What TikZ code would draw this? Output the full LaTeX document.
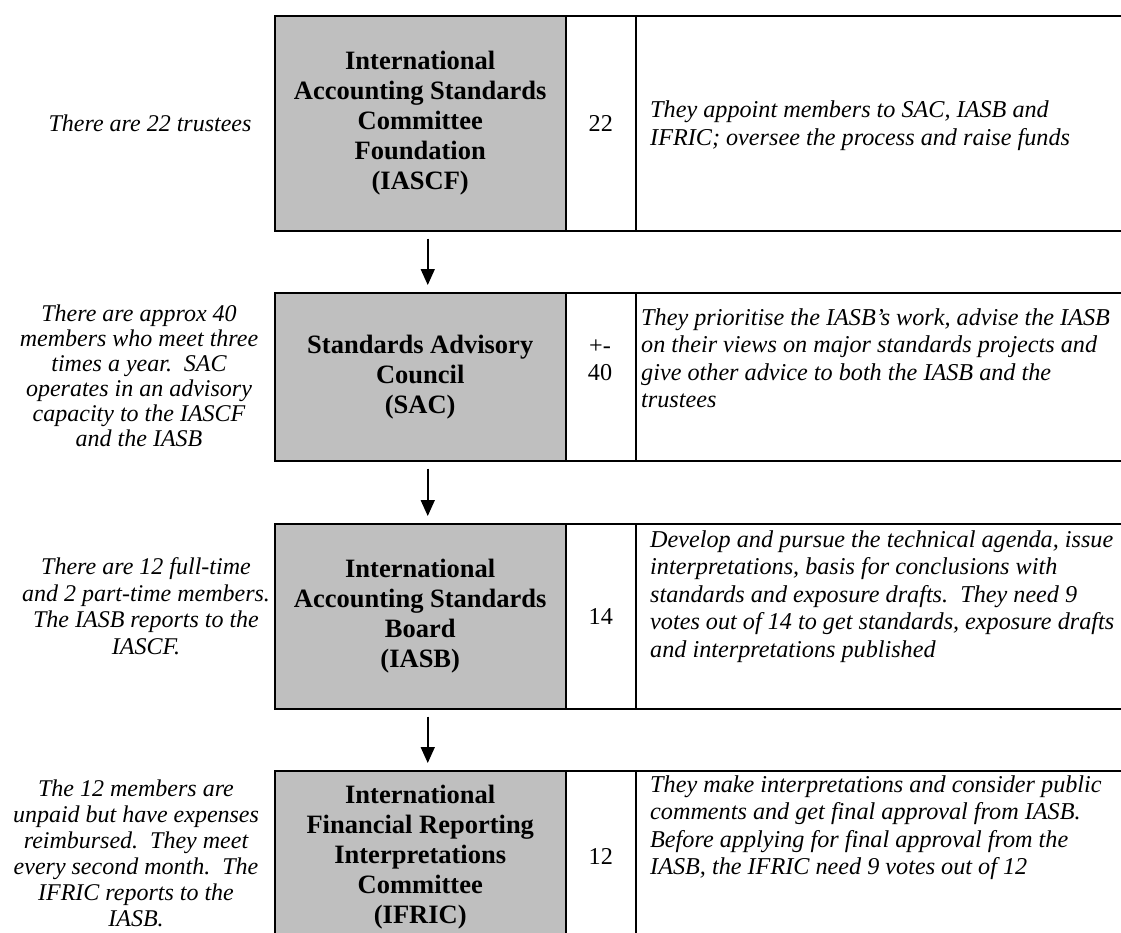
\documentclass[tikz,border=0pt]{standalone}
\usepackage{fontspec}
\setmainfont{Liberation Serif}
\usetikzlibrary{calc,arrows.meta}
\begin{document}
\begin{tikzpicture}[x=1pt,y=-1pt,
  cell/.style={draw=black, line width=1.5pt, inner sep=0pt, anchor=north west},
  grey/.style={cell, fill=black!25, minimum width=291pt, align=center, font=\fontsize{26.5}{30}\selectfont\bfseries},
  num/.style={cell, minimum width=70pt, align=center, font=\fontsize{24.2}{27}\selectfont},
  desc/.style={cell, minimum width=495pt},
  rtext/.style={anchor=west, align=left, inner sep=0pt, font=\fontsize{24.2}{27.5}\selectfont\itshape},
  ltext/.style={align=center, inner sep=0pt, font=\fontsize{24}{26.5}\selectfont\itshape},
  arr/.style={-{Triangle[length=16pt,width=14pt]}, line width=1.6pt}]
\clip (0,0) rectangle (1121,932);
% row 1
\node[grey, minimum height=215pt] (g1) at (274,15) {International\\Accounting Standards\\Committee\\Foundation\\(IASCF)};
\node[num, minimum height=215pt] (n1) at (565,15) {22};
\node[desc, minimum height=215pt] (d1) at (635,15) {};
\node[rtext] (t1) at (650,125.5) {They appoint members to SAC, IASB and\\IFRIC; oversee the process and raise funds};
\node[ltext] (l1) at (150,123) {There are 22 trustees};
% row 2
\node[grey, minimum height=168pt] (g2) at (274,292) {Standards Advisory\\Council\\(SAC)};
\node[num, minimum height=168pt] (n2) at (565,292) {};
\node[num, draw=none, anchor=center] (n2t) at (600,360) {+-\\40};
\node[desc, minimum height=168pt] (d2) at (635,292) {};
\node[rtext] (t2) at (641,358) {They prioritise the IASB’s work, advise the IASB\\on their views on major standards projects and\\give other advice to both the IASB and the\\trustees};
\node[ltext, font=\fontsize{24}{25}\selectfont\itshape] (l2) at (139,375.5) {There are approx 40\\members who meet three\\times a year.\ \ SAC\\operates in an advisory\\capacity to the IASCF\\and the IASB};
% row 3
\node[grey, minimum height=185pt] (g3) at (274,523) {International\\Accounting Standards\\Board\\(IASB)};
\node[num, minimum height=185pt] (n3) at (565,523) {14};
\node[desc, minimum height=185pt] (d3) at (635,523) {};
\node[rtext] (t3) at (650,596.5) {Develop and pursue the technical agenda, issue\\interpretations, basis for conclusions with\\standards and exposure drafts.\ \ They need 9\\votes out of 14 to get standards, exposure drafts\\and interpretations published};
\node[ltext] (l3) at (146,606) {There are 12 full-time\\and 2 part-time members.\\The IASB reports to the\\IASCF.};
% row 4
\node[grey, minimum height=172pt] (g4) at (274,770) {International\\Financial Reporting\\Interpretations\\Committee\\(IFRIC)};
\node[num, minimum height=172pt] (n4) at (565,770) {12};
\node[desc, minimum height=172pt] (d4) at (635,770) {};
\node[rtext] (t4) at (650,827.5) {They make interpretations and consider public\\comments and get final approval from IASB.\\Before applying for final approval from the\\IASB, the IFRIC need 9 votes out of 12};
\node[ltext, font=\fontsize{24}{26}\selectfont\itshape] (l4) at (136,853) {The 12 members are\\unpaid but have expenses\\reimbursed.\ \ They meet\\every second month.\ \ The\\IFRIC reports to the\\IASB.};
% arrows
\draw[arr] ($(g1.south)+(7.5,7)$) -- ($(g2.north)+(7.5,-7)$);
\draw[arr] ($(g2.south)+(7.5,7)$) -- ($(g3.north)+(7.5,-7)$);
\draw[arr] ($(g3.south)+(7.5,7)$) -- ($(g4.north)+(7.5,-7)$);
\end{tikzpicture}
\end{document}
